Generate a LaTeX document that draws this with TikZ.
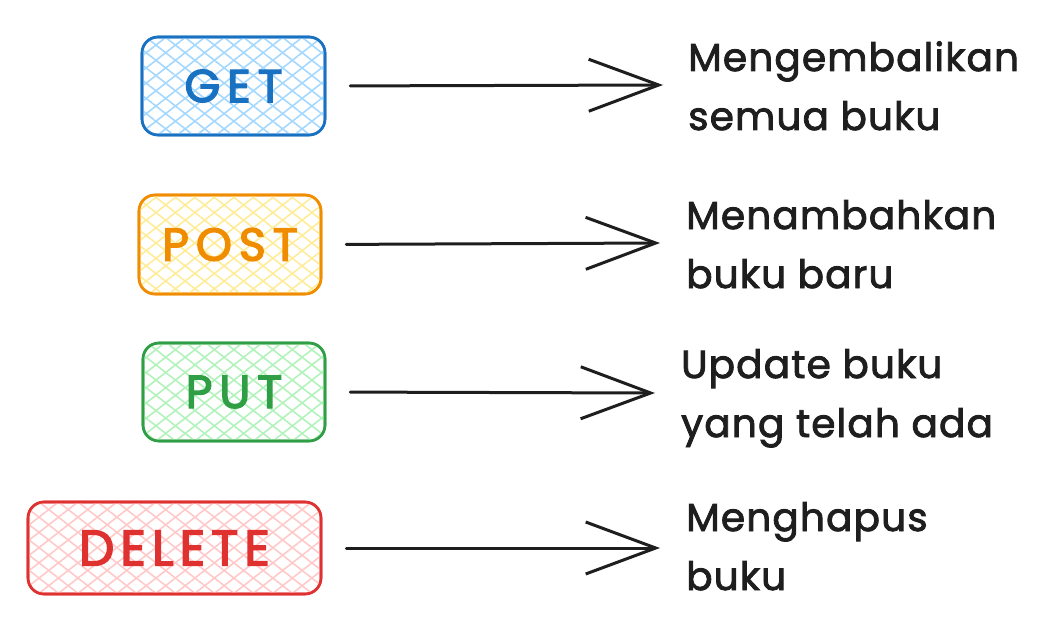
\documentclass[tikz,border=0pt]{standalone}
\usepackage{fontspec}
\setmainfont{Poppins}[FakeBold=2.2]
\usetikzlibrary{arrows.meta,patterns.meta}
\definecolor{getS}{HTML}{1971C2}\definecolor{getF}{HTML}{A5D8FF}
\definecolor{postS}{HTML}{F08C00}\definecolor{postF}{HTML}{FFEC99}
\definecolor{putS}{HTML}{2F9E44}\definecolor{putF}{HTML}{B2F2BB}
\definecolor{delS}{HTML}{E03131}\definecolor{delF}{HTML}{FFC9C9}
\definecolor{ink}{HTML}{1E1E1E}
\tikzset{
  method/.style 2 args={draw=#1, text=#1, line width=2.6pt, rounded corners=16pt,
    inner sep=0pt, font=\fontsize{46}{48}\selectfont\addfontfeature{LetterSpace=15,FakeBold=3},
    postaction={pattern={Lines[angle=38,distance=12pt,line width=1.6pt]}, pattern color=#2},
    postaction={pattern={Lines[angle=-38,distance=12pt,line width=1.6pt]}, pattern color=#2},
    postaction={draw=#1, line width=2.6pt}},
  biglabel/.style={font=\fontsize{50}{52}\selectfont\addfontfeature{LetterSpace=12,FakeBold=3}},
  desc/.style={anchor=base west, align=left, text=ink, inner sep=0pt,
    font=\fontsize{39}{59}\selectfont\addfontfeature{LetterSpace=3}},
  link/.style={draw=ink, line width=3pt, line cap=round,
    -{Straight Barb[length=70pt,width=52pt,line width=3pt]}, shorten <=24pt}
}
\begin{document}
\begin{tikzpicture}[x=1pt,y=-1pt]
\useasboundingbox (0,0) rectangle (1056,639);
% boxes
\node[method={getS}{getF}, minimum width=183pt, minimum height=98pt] (get) at (233.5,86) {GET};
\node[method={postS}{postF}, minimum width=182pt, minimum height=99pt] (post) at (230,244.5) {POST};
\node[method={putS}{putF}, minimum width=182pt, minimum height=98pt] (put) at (234,392) {PUT};
\node[method={delS}{delF}, biglabel, minimum width=293pt, minimum height=92pt] (del) at (174.5,548) {DELETE};
% descriptions (anchored at the baseline of the last line)
\node[desc] (getd) at (688,130) {Mengembalikan\\semua buku};
\node[desc] (postd) at (686,288) {Menambahkan\\buku baru};
\node[desc] (putd) at (681,437) {Update buku\\yang telah ada};
\node[desc] (deld) at (686,590) {Menghapus\\buku};
% arrow tips
\coordinate (gett) at (663,85);
\coordinate (postt) at (660,243);
\coordinate (putt) at (655,393);
\coordinate (delt) at (660,548);
\draw[link] (get.east) -- (gett);
\draw[link] (post.east) -- (postt);
\draw[link] (put.east) -- (putt);
\draw[link] (del.east) -- (delt);
\end{tikzpicture}
\end{document}
